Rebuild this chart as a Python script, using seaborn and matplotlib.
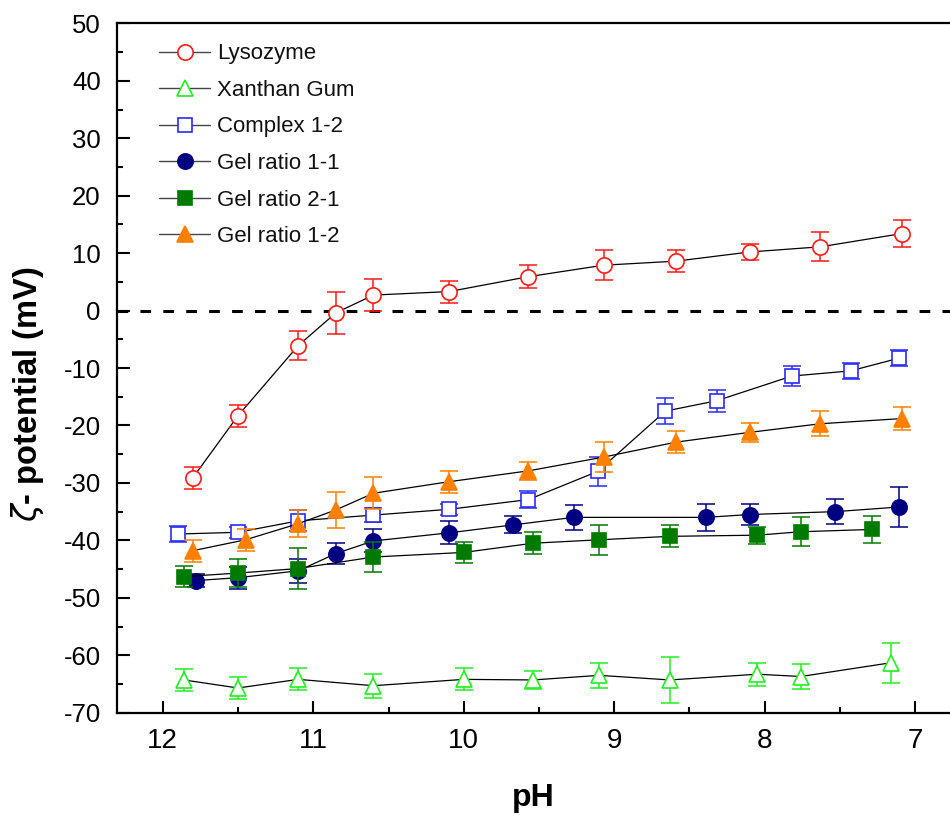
import matplotlib
matplotlib.use("Agg")
import matplotlib.pyplot as plt
from matplotlib.lines import Line2D
from matplotlib.ticker import MultipleLocator
import seaborn as sns
import pandas as pd

# ---------------- data ----------------
lys_ph = [11.80, 11.50, 11.10, 10.85, 10.60, 10.10, 9.57, 9.07, 8.59, 8.10, 7.63, 7.09]
lys_zp = [-29.1, -18.3, -6.1, -0.4, 2.7, 3.3, 5.9, 7.9, 8.6, 10.2, 11.1, 13.4]
lys_err = [1.9, 1.9, 2.5, 3.7, 2.8, 1.9, 2.0, 2.6, 1.9, 1.4, 2.5, 2.3]

xg_ph = [11.86, 11.50, 11.10, 10.60, 10.00, 9.54, 9.10, 8.63, 8.05, 7.76, 7.16]
xg_zp = [-64.3, -65.7, -64.2, -65.3, -64.2, -64.3, -63.5, -64.3, -63.3, -63.7, -61.3]
xg_err = [1.9, 2.0, 1.9, 2.1, 1.9, 1.6, 2.2, 4.0, 2.0, 2.2, 3.5]

cx_ph = [11.90, 11.50, 11.10, 10.60, 10.10, 9.57, 9.11, 8.66, 8.32, 7.82, 7.43, 7.11]
cx_zp = [-38.9, -38.6, -36.6, -35.6, -34.6, -32.9, -28.0, -17.5, -15.7, -11.4, -10.5, -8.3]
cx_err = [1.4, 1.0, 1.8, 1.2, 1.0, 1.5, 2.5, 2.3, 1.9, 1.8, 1.4, 1.4]

g11_ph = [11.78, 11.50, 11.10, 10.85, 10.60, 10.10, 9.67, 9.27, 8.39, 8.10, 7.53, 7.11]
g11_zp = [-47.0, -46.5, -45.3, -42.3, -40.1, -38.7, -37.3, -36.0, -36.0, -35.5, -35.0, -34.2]
g11_err = [1.2, 1.9, 2.1, 1.9, 2.0, 2.0, 1.5, 2.2, 2.3, 1.8, 2.2, 3.5]

g21_ph = [11.86, 11.50, 11.10, 10.60, 10.00, 9.54, 9.10, 8.63, 8.05, 7.76, 7.29]
g21_zp = [-46.3, -45.7, -44.9, -42.9, -42.1, -40.5, -39.9, -39.3, -39.1, -38.5, -38.1]
g21_err = [1.8, 2.4, 3.6, 2.6, 1.9, 1.9, 2.6, 1.9, 1.5, 2.5, 2.3]

g12_ph = [11.80, 11.45, 11.10, 10.85, 10.60, 10.10, 9.57, 9.07, 8.59, 8.10, 7.63, 7.09]
g12_zp = [-41.8, -39.9, -37.1, -34.7, -31.8, -29.8, -27.9, -25.5, -22.9, -21.2, -19.7, -18.8]
g12_err = [1.9, 1.9, 2.3, 3.1, 2.8, 1.9, 1.6, 2.6, 1.9, 1.6, 2.2, 2.0]

labels = ["Lysozyme", "Xanthan Gum", "Complex 1-2", "Gel ratio 1-1", "Gel ratio 2-1", "Gel ratio 1-2"]
x_ticks = [12, 11, 10, 9, 8, 7]
y_ticks = [50, 40, 30, 20, 10, 0, -10, -20, -30, -40, -50, -60, -70]

# ---------------- style ----------------
sns.set_theme(style="ticks")
plt.rcParams["font.family"] = ["Liberation Sans", "DejaVu Sans"]
plt.rcParams["mathtext.fontset"] = "dejavusans"

fig = plt.figure(figsize=(9.5, 8.16), dpi=100)
ax = fig.add_axes([0.1235, 0.1266, 0.8765, 0.8448])

series = [
    (lys_ph, lys_zp, lys_err, "o", "#ff1a1a", "white", 11),
    (xg_ph, xg_zp, xg_err, "^", "#22ee22", "white", 12),
    (cx_ph, cx_zp, cx_err, "s", "#2a2aff", "white", 10),
    (g11_ph, g11_zp, g11_err, "o", "#000080", "#000080", 11),
    (g21_ph, g21_zp, g21_err, "s", "#007a00", "#007a00", 9.5),
    (g12_ph, g12_zp, g12_err, "^", "#ff8000", "#ff8000", 12),
]

handles = []
for i, (ph, zp, err, mk, col, fc, ms) in enumerate(series):
    df = pd.DataFrame({"pH": ph, "zp": zp})
    z = 3 + i
    ax.errorbar(ph, zp, yerr=err, fmt="none", ecolor=col, elinewidth=1.1,
                capsize=6.5, capthick=1.1, zorder=z)
    sns.lineplot(data=df, x="pH", y="zp", ax=ax, color="black", linewidth=0.9,
                 sort=False, zorder=z - 0.5, legend=False)
    ax.plot(ph, zp, linestyle="none", marker=mk, markersize=ms,
            markerfacecolor=fc, markeredgecolor=col, markeredgewidth=1.2, zorder=z + 0.2)
    handles.append(Line2D([0], [0], color="#444444", linewidth=1.0, marker=mk,
                          markersize=ms, markerfacecolor=fc, markeredgecolor=col,
                          markeredgewidth=1.2, label=labels[i]))

ax.axhline(0, color="black", linewidth=2.2, dashes=(3.5, 4.0), zorder=2)

ax.set_xlim(12.302, 6.769)
ax.set_ylim(-70, 50)
ax.set_xticks(x_ticks)
ax.set_xticklabels([str(t) for t in x_ticks])
ax.set_yticks(y_ticks)
ax.set_yticklabels([str(t) for t in y_ticks])
ax.xaxis.set_minor_locator(MultipleLocator(0.5))
ax.yaxis.set_minor_locator(MultipleLocator(5))

ax.tick_params(axis="both", which="major", direction="in", length=9, width=1.5,
               color="black", top=False, right=False)
ax.tick_params(axis="both", which="minor", direction="in", length=4.5, width=1.5,
               color="black", top=False, right=False)
ax.tick_params(axis="x", which="major", labelsize=20, pad=11, labelcolor="black")
ax.tick_params(axis="y", which="major", labelsize=18.5, pad=12, labelcolor="black")

for s in ["left", "bottom", "top"]:
    ax.spines[s].set_linewidth(1.6)
    ax.spines[s].set_color("black")
ax.spines["right"].set_visible(False)

ax.set_xlabel("pH", fontsize=23, fontweight="bold", labelpad=21, color="black")
ax.set_ylabel(r"$\zeta$- potential (mV)", fontsize=23.5, fontweight="bold",
              color="black")
ax.yaxis.set_label_coords(-0.086, 0.462)

leg = ax.legend(handles=handles, loc="upper left", bbox_to_anchor=(0.050, 0.971),
                frameon=False, fontsize=16, handlelength=2.3, handletextpad=0.3,
                labelspacing=0.70, borderpad=0, borderaxespad=0)
for t in leg.get_texts():
    t.set_color("#111111")

ax.set_facecolor("white")
fig.patch.set_facecolor("white")
fig.savefig("out.png", dpi=100, facecolor="white")
